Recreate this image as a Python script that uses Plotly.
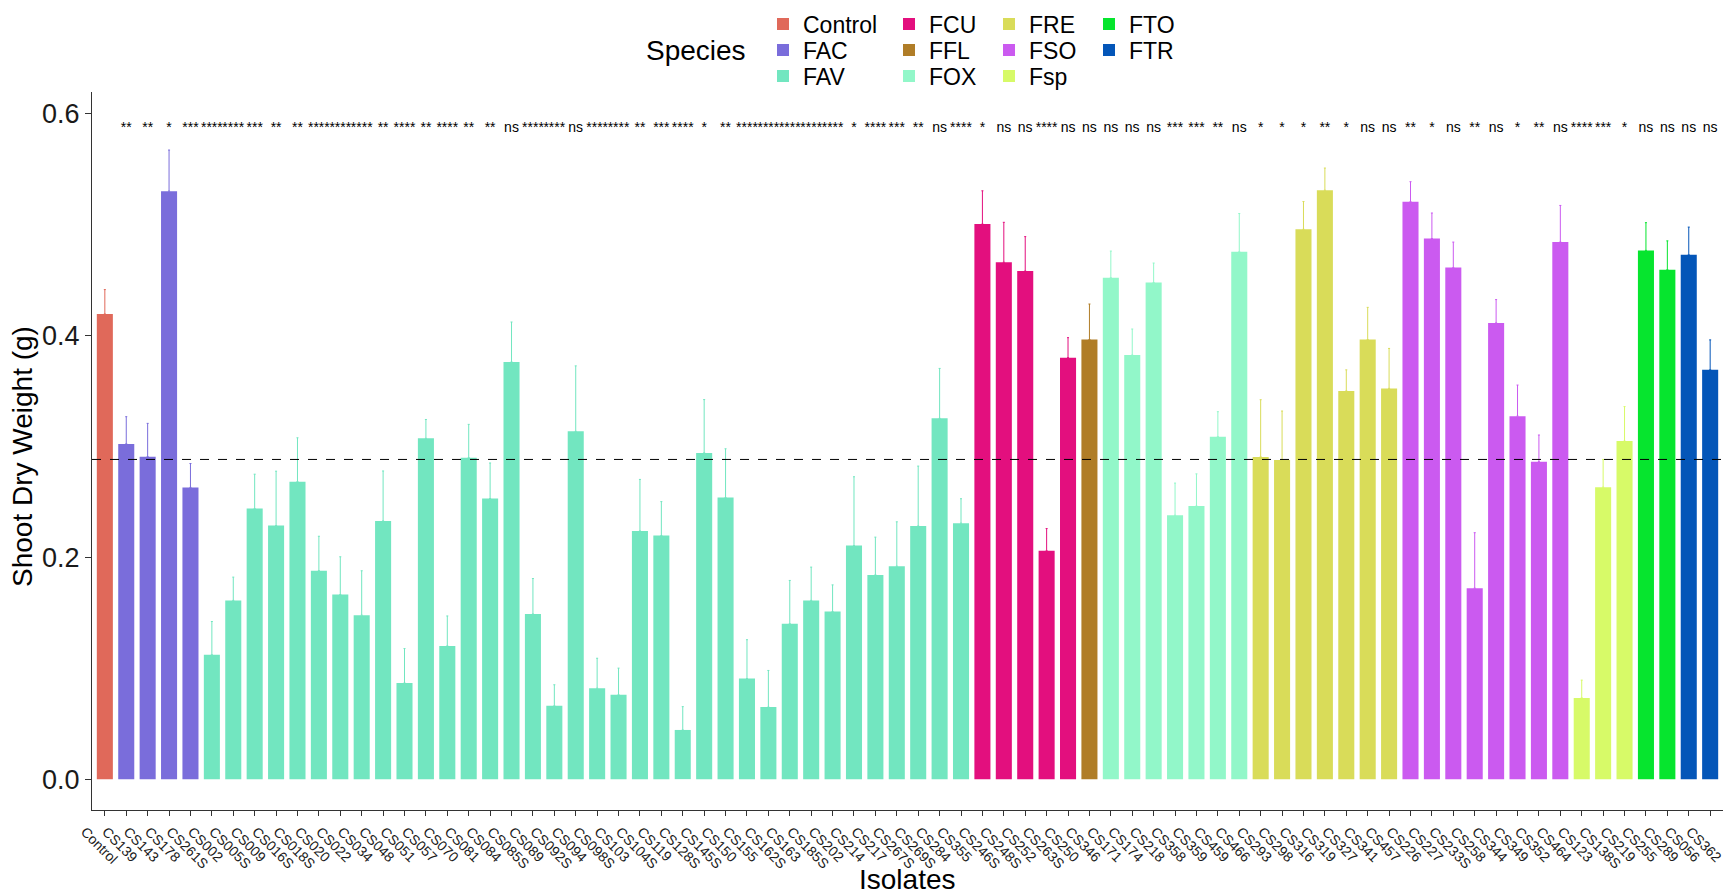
import plotly.graph_objects as go

# ---------------- data ----------------
isolates = [
    "Control", "CS139", "CS143", "CS178", "CS261S",
    "CS002", "CS005S", "CS009", "CS016S", "CS018S", "CS020", "CS022", "CS034", "CS048",
    "CS051", "CS057", "CS070", "CS081", "CS084", "CS085S", "CS089", "CS092S", "CS094",
    "CS098S", "CS103", "CS104S", "CS119", "CS128S", "CS145S", "CS150", "CS155", "CS162S",
    "CS163", "CS185S", "CS202", "CS214", "CS217", "CS267S", "CS269S", "CS284", "CS355",
    "CS246S", "CS248S", "CS252", "CS263S", "CS250",
    "CS346",
    "CS171", "CS174", "CS218", "CS358", "CS359", "CS459", "CS466",
    "CS293", "CS298", "CS316", "CS319", "CS327", "CS341", "CS457",
    "CS226", "CS227", "CS233S", "CS258", "CS344", "CS349", "CS352", "CS464",
    "CS123", "CS138S", "CS219",
    "CS255", "CS289",
    "CS056", "CS362",
]

species = (
    ["Control"] + ["FAC"] * 4 + ["FAV"] * 36 + ["FCU"] * 5 + ["FFL"] + ["FOX"] * 7
    + ["FRE"] * 7 + ["FSO"] * 8 + ["Fsp"] * 3 + ["FTO"] * 2 + ["FTR"] * 2
)

shoot_dry_weight = [
    0.419, 0.302, 0.2905, 0.5297, 0.2628,
    0.112, 0.161, 0.2437, 0.2284, 0.268, 0.1878, 0.1663, 0.1477, 0.2326,
    0.0866, 0.307, 0.120, 0.2896, 0.2528, 0.3758, 0.1487, 0.066, 0.3133,
    0.0819, 0.076, 0.2235, 0.2195, 0.0443, 0.2939, 0.2536, 0.0906, 0.0649,
    0.140, 0.161, 0.151, 0.2104, 0.184, 0.1918, 0.228, 0.325, 0.2306,
    0.500, 0.4656, 0.4577, 0.2057, 0.3797,
    0.396,
    0.4517, 0.382, 0.4474, 0.2377, 0.246, 0.3085, 0.475,
    0.2903, 0.2876, 0.4953, 0.5305, 0.3497, 0.396, 0.352,
    0.5202, 0.487, 0.4608, 0.172, 0.411, 0.327, 0.286, 0.4838,
    0.0732, 0.263, 0.3046,
    0.4763, 0.4589,
    0.4723, 0.3687,
]

std_error = [
    0.022, 0.0245, 0.030, 0.037, 0.0215,
    0.030, 0.021, 0.031, 0.049, 0.0395, 0.031, 0.034, 0.040, 0.045,
    0.031, 0.017, 0.027, 0.030, 0.032, 0.036, 0.032, 0.019, 0.059,
    0.027, 0.024, 0.0465, 0.0305, 0.021, 0.048, 0.044, 0.035, 0.033,
    0.039, 0.030, 0.024, 0.062, 0.034, 0.040, 0.054, 0.045, 0.022,
    0.030, 0.036, 0.031, 0.020, 0.018,
    0.032,
    0.024, 0.0235, 0.0175, 0.029, 0.029, 0.0225, 0.0345,
    0.0515, 0.044, 0.025, 0.020, 0.019, 0.029, 0.036,
    0.018, 0.023, 0.023, 0.050, 0.021, 0.028, 0.024, 0.033,
    0.016, 0.025, 0.031,
    0.025, 0.026,
    0.025, 0.027,
]

significance = [
    "", "**", "**", "*", "***",
    "****", "****", "***", "**", "**", "****", "****", "****", "**",
    "****", "**", "****", "**", "**", "ns", "****", "****", "ns",
    "****", "****", "**", "***", "****", "*", "**", "****", "****",
    "****", "****", "****", "*", "****", "***", "**", "ns", "****",
    "*", "ns", "ns", "****", "ns",
    "ns",
    "ns", "ns", "ns", "***", "***", "**", "ns",
    "*", "*", "*", "**", "*", "ns", "ns",
    "**", "*", "ns", "**", "ns", "*", "**", "ns",
    "****", "***", "*",
    "ns", "ns",
    "ns", "ns",
]

reference_line = 0.288

species_levels = ["Control", "FAC", "FAV", "FCU", "FFL", "FOX", "FRE", "FSO", "Fsp", "FTO", "FTR"]
species_colors = {
    "Control": "#E0695A", "FAC": "#7A6DDB", "FAV": "#72E6C0", "FCU": "#E30F7E",
    "FFL": "#B07D27", "FOX": "#92F7C9", "FRE": "#D9DC59", "FSO": "#CB5AF0",
    "Fsp": "#D7FA68", "FTO": "#06E52E", "FTR": "#0456B8",
}

# ---------------- layout constants ----------------
W, H = 1732, 895
M_L, M_R, M_T, M_B = 92, 9, 92, 85
PW, PH = W - M_L - M_R, H - M_T - M_B
FONT = "Arial, Liberation Sans, sans-serif"
LABEL_Y = 0.586
# legend grid (column-major like ggplot): text-start x and row-centre y in pixels
leg_cols_x = [803, 929, 1029, 1129]
leg_rows_y = [24, 50, 76]

fig = go.Figure()

for k, sp in enumerate(species_levels):
    idx = [i for i, s in enumerate(species) if s == sp]
    col = species_colors[sp]
    c, r = divmod(k, 3)
    lname = "legend" if k == 0 else f"legend{k + 1}"
    fig.add_trace(go.Bar(
        x=[isolates[i] for i in idx],
        y=[shoot_dry_weight[i] for i in idx],
        name=sp,
        marker=dict(color=col, line=dict(width=0)),
        error_y=dict(type="data", symmetric=False,
                     array=[std_error[i] for i in idx],
                     arrayminus=[0] * len(idx),
                     color=col, thickness=1, width=1),
        legend=lname,
        hoverinfo="x+y",
    ))
    fig.update_layout(**{lname: dict(
        xref="container", yref="container",
        x=(leg_cols_x[c] - 40) / W, xanchor="left",
        y=1 - leg_rows_y[r] / H, yanchor="middle",
        font=dict(family=FONT, size=23, color="black"),
        bgcolor="rgba(0,0,0,0)", borderwidth=0,
        itemwidth=30,
    )})

fig.add_trace(go.Scatter(
    x=isolates, y=[LABEL_Y] * len(isolates), text=significance,
    mode="text", textposition="middle center",
    textfont=dict(family=FONT, size=14, color="black"),
    showlegend=False, hoverinfo="skip",
))

fig.add_hline(y=reference_line, line=dict(color="black", width=1, dash="dash"))

# legend title and axis titles
fig.add_annotation(
    text="Species", xref="paper", yref="paper",
    x=(695.5 - M_L) / PW, y=(H - M_B - 50) / PH,
    xanchor="center", yanchor="middle", showarrow=False,
    font=dict(family=FONT, size=28, color="black"),
)
fig.add_annotation(
    text="Isolates", xref="paper", yref="paper",
    x=0.5, y=-(879 - (H - M_B)) / PH,
    xanchor="center", yanchor="middle", showarrow=False,
    font=dict(family=FONT, size=28, color="black"),
)
fig.add_annotation(
    text="Shoot Dry Weight (g)", xref="paper", yref="paper",
    x=-(M_L - 22) / PW, y=(H - M_B - 457) / PH, textangle=-90,
    xanchor="center", yanchor="middle", showarrow=False,
    font=dict(family=FONT, size=28, color="black"),
)

fig.update_layout(
    width=W, height=H,
    margin=dict(l=M_L, r=M_R, t=M_T, b=M_B, autoexpand=False),
    paper_bgcolor="white", plot_bgcolor="white",
    bargap=0.25,
    showlegend=True,
    font=dict(family=FONT, color="black"),
    xaxis=dict(
        categoryorder="array", categoryarray=isolates,
        range=[-0.6, len(isolates) - 0.4],
        showline=True, linecolor="#333333", linewidth=1.2,
        ticks="outside", ticklen=5, tickcolor="#333333",
        tickangle=45, tickfont=dict(family=FONT, size=14, color="#1a1a1a"),
        ticklabelshift=-20, ticklabelstandoff=2,
        showgrid=False, zeroline=False, automargin=False,
    ),
    yaxis=dict(
        range=[-0.0278, 0.619],
        tickvals=[0, 0.2, 0.4, 0.6], tickformat=".1f",
        showline=True, linecolor="#333333", linewidth=1.2,
        ticks="outside", ticklen=6, tickcolor="#333333",
        tickfont=dict(family=FONT, size=27, color="#1a1a1a"),
        showgrid=False, zeroline=False, automargin=False,
    ),
)

fig.write_html("out.html")
